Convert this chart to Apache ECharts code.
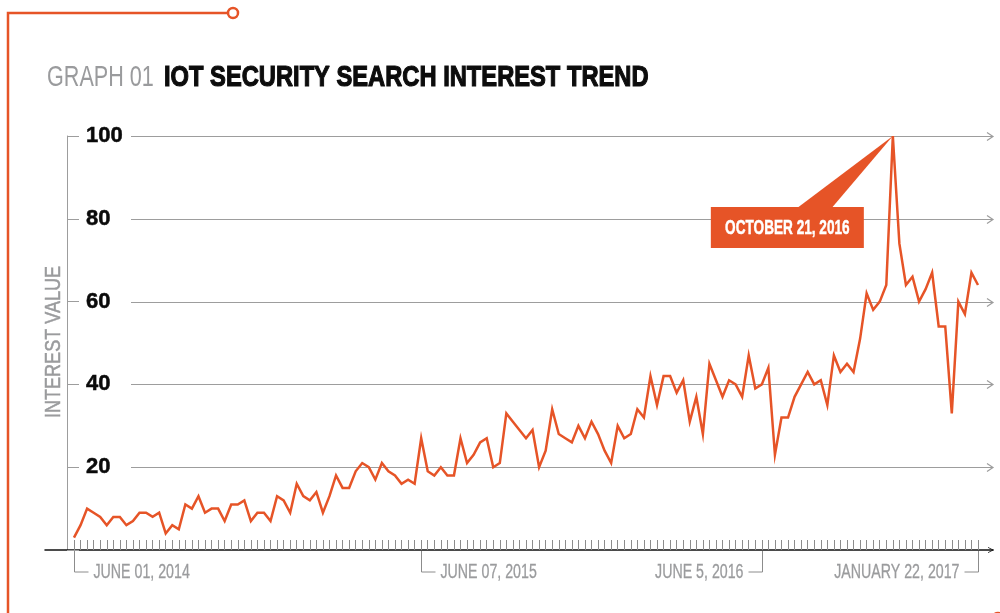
<!DOCTYPE html>
<html>
<head>
<meta charset="utf-8">
<title>IoT Security Search Interest Trend</title>
<script src="https://cdn.jsdelivr.net/npm/echarts@6/dist/echarts.min.js"></script>
<style>
  html, body { margin: 0; padding: 0; background: #ffffff; }
  #chart { width: 1000px; height: 613px; }
</style>
</head>
<body>
<div id="chart"></div>
<script>
// Weekly search interest (0-100), weeks starting Sunday 2014-06-01 through 2017-01-22
const firstWeek = Date.UTC(2014, 5, 1);
const interest = [
  3, 6, 10, 9, 8, 6, 8, 8, 6, 7,
  9, 9, 8, 9, 4, 6, 5, 11, 10, 13,
  9, 10, 10, 7, 11, 11, 12, 7, 9, 9,
  7, 13, 12, 9, 16, 13, 12, 14, 9, 13,
  18, 15, 15, 19, 21, 20, 17, 21, 19, 18,
  16, 17, 16, 27, 19, 18, 20, 18, 18, 27,
  21, 23, 26, 27, 20, 21, 33, 31, 29, 27,
  29, 20, 24, 34, 28, 27, 26, 30, 27, 31,
  28, 24, 21, 30, 27, 28, 34, 32, 42, 35,
  42, 42, 38, 41, 31, 37, 28, 45, 41, 37,
  41, 40, 37, 47, 39, 40, 44, 23, 32, 32,
  37, 40, 43, 40, 41, 35, 47, 43, 45, 43,
  51, 62, 58, 60, 64, 100, 74, 64, 66, 60,
  63, 67, 54, 54, 33, 60, 57, 67, 64
];

function isoDay(ms) {
  return new Date(ms).toISOString().slice(0, 10);
}
const weeks = interest.map((_, i) => isoDay(firstWeek + i * 7 * 86400000));

// Bracketed date labels under the time axis
const dateMarks = ['2014-06-01', '2015-06-07', '2016-06-05', '2017-01-22'];
const dateMarkText = ['JUNE 01, 2014', 'JUNE 07, 2015', 'JUNE 5, 2016', 'JANUARY 22, 2017'];
const dateMarkSide = ['right', 'right', 'left', 'left'];

// Value-axis ticks
const yTicks = [20, 40, 60, 80, 100];

// Highlighted peak
const peakWeek = '2016-10-23';
const peakValue = 100;
const peakText = 'OCTOBER 21, 2016';

const titleLead = 'GRAPH 01';
const titleMain = 'IOT SECURITY SEARCH INTEREST TREND';
const yName = 'INTEREST VALUE';

const ORANGE = '#e65427';
const GRID_GRAY = '#9d9d9d';
const TEXT_GRAY = '#9a9b9d';
const SANS = "'Liberation Sans', Arial, sans-serif";

const chart = echarts.init(document.getElementById('chart'), null, { renderer: 'canvas' });

const chevronUp = 'path://M0,10 L5,0 L10,10 L8.6,10 L5,2.6 L1.4,10 Z';

chart.setOption({
  animation: false,
  backgroundColor: '#ffffff',
  graphic: [
    {
      type: 'polyline',
      shape: { points: [[8, 620], [8, 13], [228, 13]] },
      style: { stroke: ORANGE, lineWidth: 2.5, fill: null },
      silent: true
    },
    {
      type: 'circle',
      shape: { cx: 233, cy: 13, r: 5 },
      style: { stroke: ORANGE, lineWidth: 2.5, fill: '#ffffff' },
      silent: true
    },
    {
      type: 'circle',
      shape: { cx: 998, cy: 619, r: 6 },
      style: { stroke: ORANGE, lineWidth: 2.5, fill: '#ffffff' },
      silent: true
    },
    // condensed title, two weights
    {
      type: 'text',
      x: 47,
      y: 78,
      scaleX: 0.72,
      silent: true,
      style: {
        text: titleLead,
        x: 0, y: 0,
        verticalAlign: 'middle',
        fontFamily: SANS,
        fontSize: 30,
        fill: TEXT_GRAY
      }
    },
    {
      type: 'text',
      x: 164,
      y: 78,
      scaleX: 0.79,
      silent: true,
      style: {
        text: titleMain,
        x: 0, y: 0,
        verticalAlign: 'middle',
        fontFamily: SANS,
        fontWeight: 'bold',
        fontSize: 30,
        fill: '#0c0c0c',
        stroke: '#0c0c0c',
        lineWidth: 1.2
      }
    },
    // value axis title, rotated
    {
      type: 'text',
      x: 54,
      y: 342,
      rotation: Math.PI / 2,
      scaleX: 0.82,
      silent: true,
      style: {
        text: yName,
        x: 0, y: 0,
        align: 'center',
        verticalAlign: 'middle',
        fontFamily: SANS,
        fontSize: 22,
        fill: TEXT_GRAY,
        stroke: TEXT_GRAY,
        lineWidth: 0.5
      }
    }
  ],
  grid: [
    { left: 74, right: 22, top: 136, bottom: 63 },
    { left: 45, right: 7, top: 136, bottom: 63 }
  ],
  xAxis: [
    {
      gridIndex: 0,
      type: 'category',
      data: weeks,
      boundaryGap: false,
      offset: 5,
      axisLine: { show: false },
      axisTick: { show: true, inside: true, length: 10, interval: 0, lineStyle: { color: '#8c8c8c', width: 1 } },
      axisLabel: { show: false },
      splitLine: { show: false }
    },
    {
      gridIndex: 1,
      type: 'value',
      min: 0,
      max: 1,
      axisLine: {
        show: true,
        onZero: false,
        symbol: ['none', chevronUp],
        symbolSize: [8, 6],
        symbolOffset: [0, -2],
        lineStyle: { color: '#111111', width: 1.5 }
      },
      axisTick: { show: false },
      axisLabel: { show: false },
      splitLine: { show: false }
    }
  ],
  yAxis: [
    {
      gridIndex: 0,
      type: 'value',
      min: 0,
      max: 100,
      interval: 20,
      offset: 7,
      axisLine: { show: true, lineStyle: { color: GRID_GRAY, width: 1 } },
      axisTick: { show: true, inside: true, length: 12, lineStyle: { color: GRID_GRAY, width: 1 } },
      axisLabel: {
        inside: true,
        margin: 19,
        fontFamily: SANS,
        fontWeight: 'bold',
        fontSize: 22,
        color: '#0a0a0a',
        textBorderColor: '#0a0a0a',
        textBorderWidth: 0.5,
        formatter: v => (v === 0 ? '' : String(v))
      },
      splitLine: { show: false }
    },
    { gridIndex: 1, type: 'value', min: 0, max: 1, show: false }
  ],
  series: [
    {
      // horizontal guide lines ending in an open chevron
      type: 'custom',
      xAxisIndex: 0,
      yAxisIndex: 0,
      clip: false,
      silent: true,
      z: 1,
      data: yTicks.map(v => [0, v]),
      renderItem: function (params, api) {
        const cs = params.coordSys;
        const y = Math.round(api.coord([0, api.value(1)])[1]) + 0.5;
        const x0 = cs.x + 57;
        const x1 = cs.x + cs.width + 15;
        return {
          type: 'group',
          children: [
            {
              type: 'line',
              shape: { x1: x0, y1: y, x2: x1, y2: y },
              style: { stroke: GRID_GRAY, lineWidth: 1 }
            },
            {
              type: 'polyline',
              shape: { points: [[x1 - 6, y - 4], [x1, y], [x1 - 6, y + 4]] },
              style: { stroke: GRID_GRAY, lineWidth: 1.2, fill: null }
            }
          ]
        };
      }
    },
    {
      type: 'line',
      xAxisIndex: 0,
      yAxisIndex: 0,
      data: interest,
      showSymbol: false,
      symbol: 'none',
      z: 3,
      lineStyle: { color: ORANGE, width: 2.5, join: 'miter' }
    },
    {
      // bracketed date labels under the axis
      type: 'custom',
      xAxisIndex: 0,
      yAxisIndex: 0,
      clip: false,
      silent: true,
      z: 2,
      data: dateMarks.map((d, i) => [weeks.indexOf(d), 0, i]),
      renderItem: function (params, api) {
        const i = api.value(2);
        const p = api.coord([api.value(0), 0]);
        const x = Math.round(p[0]) + 0.5;
        const yTop = p[1] + 1;
        const yBot = p[1] + 22;
        const dir = dateMarkSide[i] === 'right' ? 1 : -1;
        return {
          type: 'group',
          children: [
            {
              type: 'polyline',
              shape: { points: [[x, yTop], [x, yBot], [x + dir * 14, yBot]] },
              style: { stroke: '#8c8c8c', lineWidth: 1, fill: null }
            },
            {
              type: 'text',
              x: x + dir * 19,
              y: yBot,
              scaleX: 0.71,
              style: {
                x: 0,
                y: 0,
                text: dateMarkText[i],
                align: dir === 1 ? 'left' : 'right',
                verticalAlign: 'middle',
                fontFamily: SANS,
                fontSize: 20,
                fill: TEXT_GRAY,
                stroke: TEXT_GRAY,
                lineWidth: 0.3
              }
            }
          ]
        };
      }
    },
    {
      // callout for the peak week
      type: 'custom',
      xAxisIndex: 0,
      yAxisIndex: 0,
      clip: false,
      silent: true,
      z: 4,
      data: [[weeks.indexOf(peakWeek), peakValue]],
      renderItem: function (params, api) {
        const p = api.coord([api.value(0), api.value(1)]);
        const ax = p[0], ay = p[1];
        return {
          type: 'group',
          children: [
            {
              type: 'polygon',
              shape: { points: [[ax - 97, ay + 73], [ax, ay], [ax - 62, ay + 73]] },
              style: { fill: ORANGE }
            },
            {
              type: 'rect',
              shape: { x: ax - 182, y: ay + 71, width: 153, height: 41 },
              style: { fill: ORANGE }
            },
            {
              type: 'text',
              x: ax - 105.5,
              y: ay + 92,
              scaleX: 0.68,
              style: {
                x: 0,
                y: 0,
                text: peakText,
                align: 'center',
                verticalAlign: 'middle',
                fontFamily: SANS,
                fontWeight: 'bold',
                fontSize: 20,
                fill: '#ffffff',
                stroke: '#ffffff',
                lineWidth: 0.5
              }
            }
          ]
        };
      }
    }
  ]
});
</script>
</body>
</html>
